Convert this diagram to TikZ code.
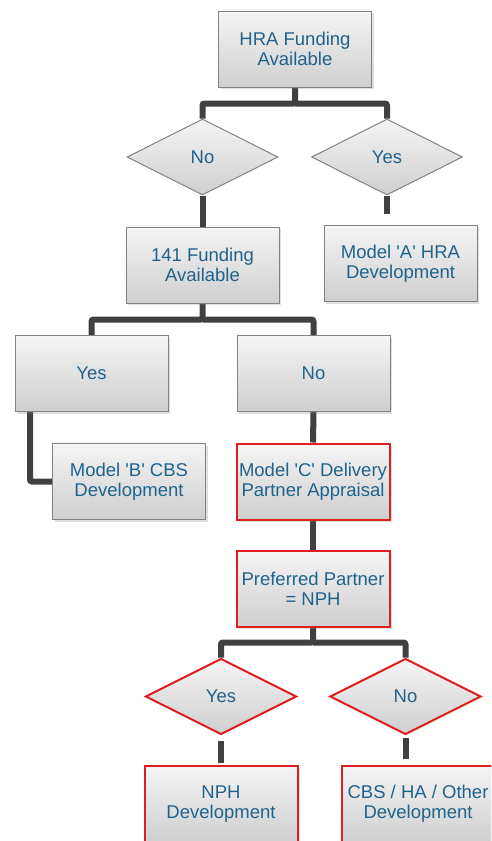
\documentclass[tikz,border=0pt]{standalone}
\usepackage{fontspec}
\setmainfont{Liberation Sans}
\usetikzlibrary{shapes.geometric,shadows,backgrounds}
\definecolor{txtblue}{RGB}{31,99,140}
\definecolor{linkgray}{RGB}{64,64,64}
\definecolor{edgegray}{RGB}{130,130,130}
\definecolor{alertred}{RGB}{225,30,30}
\newcommand{\q}{\textquotesingle}
\tikzset{
  box/.style={rectangle, draw=edgegray, line width=1pt, top color=gray!8, bottom color=gray!38,
    minimum width=153pt, minimum height=76pt, inner sep=1pt, align=center, text=txtblue,
    font=\fontsize{18.5}{20}\selectfont,
    drop shadow={shadow xshift=2pt, shadow yshift=-2pt, opacity=0.25}},
  redbox/.style={box, draw=alertred, line width=2pt},
  choice/.style={diamond, draw=edgegray, line width=1pt, top color=gray!8, bottom color=gray!38,
    aspect=2, minimum width=151pt, minimum height=76pt, inner sep=0pt, text=txtblue,
    font=\fontsize{18.5}{20}\selectfont},
  redchoice/.style={choice, draw=alertred, line width=2pt},
  link/.style={draw=linkgray, line width=6pt, rounded corners=2pt}
}
\begin{document}
\begin{tikzpicture}[x=1pt, y=-1pt]
  \useasboundingbox (0,0) rectangle (491,841);
  \clip (0,0) rectangle (491,841);

  \node[box] (hra) at (295,49) {HRA Funding\\Available};
  \node[choice] (no1) at (202.5,157) {No};
  \node[choice] (yes1) at (387,157) {Yes};
  \node[box] (fund) at (202.5,265) {141 Funding\\Available};
  \node[box] (modA) at (400.5,263.5) {Model \q A\q{} HRA\\Development};
  \node[box] (yes2) at (91.5,373.5) {Yes};
  \node[box] (no2) at (313.5,373.5) {No};
  \node[box] (modB) at (129,481.5) {Model \q B\q{} CBS\\Development};
  \node[redbox] (modC) at (313,481.5) {Model \q C\q{} Delivery\\Partner Appraisal};
  \node[redbox] (pref) at (313,588.5) {Preferred Partner\\= NPH};
  \node[redchoice] (yes3) at (221,696.5) {Yes};
  \node[redchoice] (no3) at (405.5,696.5) {No};
  \node[redbox] (nph) at (221,804) {NPH\\Development};
  \node[redbox] (other) at (418,804) {CBS / HA / Other\\Development};

  % links behind the boxes
  \begin{scope}[on background layer]
    \draw[link] (hra.south) -- ++(0,16) coordinate (hraJ) -| (no1.north);
    \draw[link] (hraJ) -| (yes1.north);
    \draw[link] (no1.south) -- (fund.north);
    \draw[link] (yes1.south) -- ++(0,18) coordinate (yesEnd);
    \draw[link] (fund.south) -- ++(0,16) coordinate (fundJ) -| (yes2.north);
    \draw[link] (fundJ) -| (no2.north);
    \draw[link] ([xshift=-61.5pt]yes2.south) |- (modB.west);
    \draw[link] (no2.south) -- (modC.north);
    \draw[link] (modC.south) -- (pref.north);
    \draw[link] (pref.south) -- ++(0,15) coordinate (prefJ) -| (yes3.north);
    \draw[link] (prefJ) -| (no3.north);
    \draw[link] ([yshift=-5pt]yes3.south) -- ++(0,22) coordinate (nphEnd);
    \draw[link] ([yshift=-2pt]no3.south) -- ++(0,21) coordinate (otherEnd);
  \end{scope}
\end{tikzpicture}
\end{document}
